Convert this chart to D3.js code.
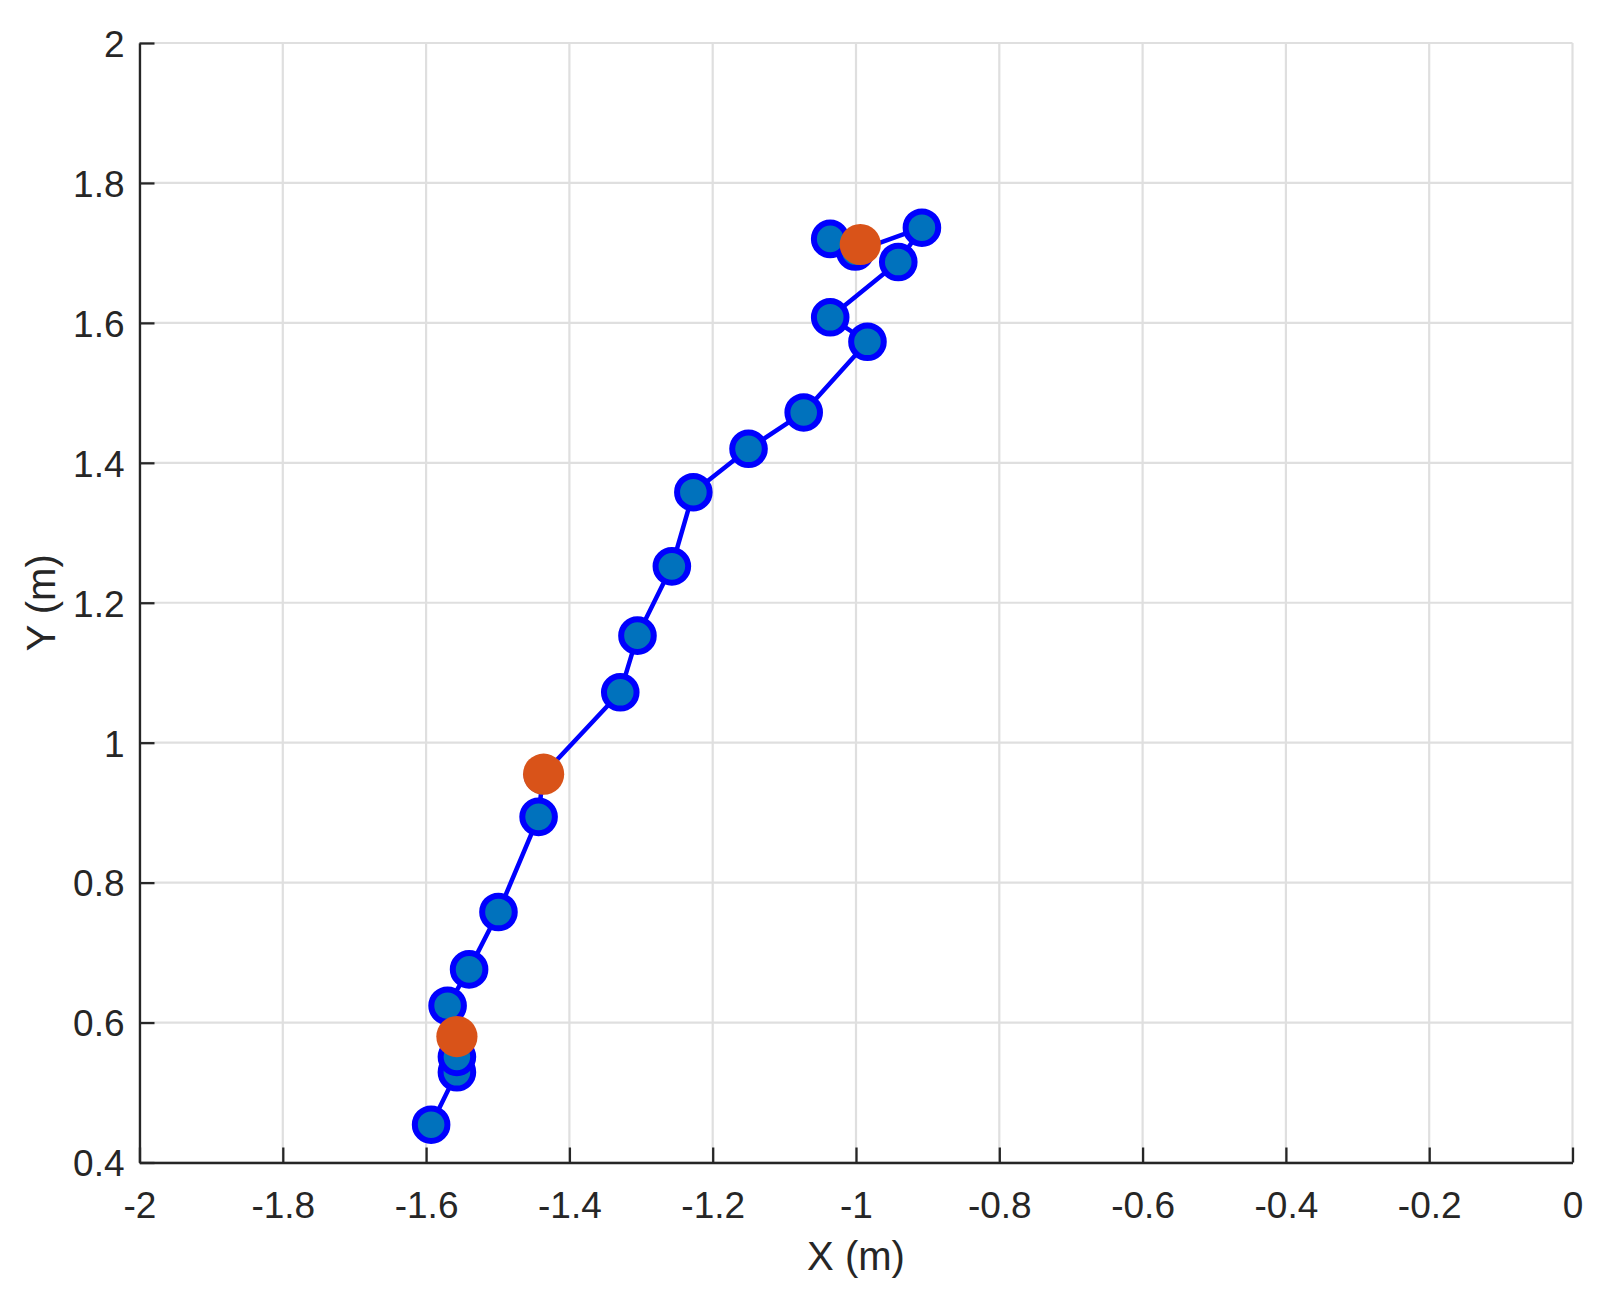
<!DOCTYPE html>
<html><head><meta charset="utf-8">
<script src="https://cdn.jsdelivr.net/npm/d3@7"></script>
<style>body{margin:0;background:#fff}svg{display:block}</style>
</head><body>
<svg id="c" width="1609" height="1296"></svg>
<script>
const pathX = [-1.593, -1.557, -1.557, -1.557, -1.570, -1.540, -1.499, -1.443, -1.437, -1.329, -1.305, -1.257, -1.227, -1.150, -1.073, -0.984, -1.036, -0.941, -0.908, -1.001, -1.036];
const pathY = [0.454, 0.529, 0.551, 0.580, 0.624, 0.676, 0.758, 0.894, 0.954, 1.072, 1.153, 1.252, 1.358, 1.420, 1.472, 1.573, 1.608, 1.687, 1.736, 1.702, 1.720];
const keyX = [-1.557, -1.436, -0.994];
const keyY = [0.580, 0.955, 1.712];
const xTicks = [-2, -1.8, -1.6, -1.4, -1.2, -1, -0.8, -0.6, -0.4, -0.2, 0];
const yTicks = [0.4, 0.6, 0.8, 1, 1.2, 1.4, 1.6, 1.8, 2];
const xLabel = "X (m)", yLabel = "Y (m)";

const svg = d3.select("#c");
const L = 139.5, R = 1572.5, T = 43, B = 1162.5;
const x = d3.scaleLinear().domain([-2, 0]).range([L, R]);
const y = d3.scaleLinear().domain([0.4, 2]).range([B, T]);
const axisCol = "#262626", gridCol = "#dfdfdf";
const font = "'Liberation Sans', Arial, Helvetica, sans-serif";

// grid
svg.append("g").selectAll("line").data(xTicks).join("line")
  .attr("x1", d => x(d)).attr("x2", d => x(d)).attr("y1", T).attr("y2", B)
  .attr("stroke", gridCol).attr("stroke-width", 2.2);
svg.append("g").selectAll("line").data(yTicks).join("line")
  .attr("x1", L).attr("x2", R).attr("y1", d => y(d)).attr("y2", d => y(d))
  .attr("stroke", gridCol).attr("stroke-width", 2.2);

// axes
const fmt = d => String(d);
const gx = svg.append("g").attr("transform", `translate(0,${B})`)
  .call(d3.axisBottom(x).tickValues(xTicks).tickFormat(fmt).tickSizeInner(-15).tickSizeOuter(0).tickPadding(29));
const gy = svg.append("g").attr("transform", `translate(${L},0)`)
  .call(d3.axisLeft(y).tickValues(yTicks).tickFormat(fmt).tickSizeInner(-15).tickSizeOuter(0).tickPadding(15));
[gx, gy].forEach(g => {
  g.select(".domain").attr("stroke", axisCol).attr("stroke-width", 2.3);
  g.selectAll(".tick line").attr("stroke", axisCol).attr("stroke-width", 2.3);
  g.selectAll("text").attr("fill", axisCol).style("font-family", font).style("font-size", "37px");
});
gx.selectAll("text").attr("dy", null).attr("dominant-baseline", "hanging");
gy.selectAll("text").attr("dy", "0.36em");

// trajectory
const line = d3.line().x((d, i) => x(pathX[i])).y((d, i) => y(pathY[i]));
svg.append("path").datum(pathX).attr("d", line)
  .attr("fill", "none").attr("stroke", "#0000ff").attr("stroke-width", 4.5).attr("stroke-linejoin", "round");
svg.append("g").selectAll("circle").data(pathX).join("circle")
  .attr("cx", (d, i) => x(pathX[i])).attr("cy", (d, i) => y(pathY[i])).attr("r", 16.3)
  .attr("fill", "#0072bd").attr("stroke", "#0000ff").attr("stroke-width", 6);
svg.append("g").selectAll("circle").data(keyX).join("circle")
  .attr("cx", (d, i) => x(keyX[i])).attr("cy", (d, i) => y(keyY[i])).attr("r", 20.6)
  .attr("fill", "#d95319");

// labels
svg.append("text").attr("x", (L + R) / 2).attr("y", 1270).attr("text-anchor", "middle")
  .attr("fill", axisCol).style("font-family", font).style("font-size", "40px").text(xLabel);
svg.append("text").attr("transform", `translate(55,${(T + B) / 2}) rotate(-90)`).attr("text-anchor", "middle")
  .attr("fill", axisCol).style("font-family", font).style("font-size", "40px").text(yLabel);
</script>
</body></html>
